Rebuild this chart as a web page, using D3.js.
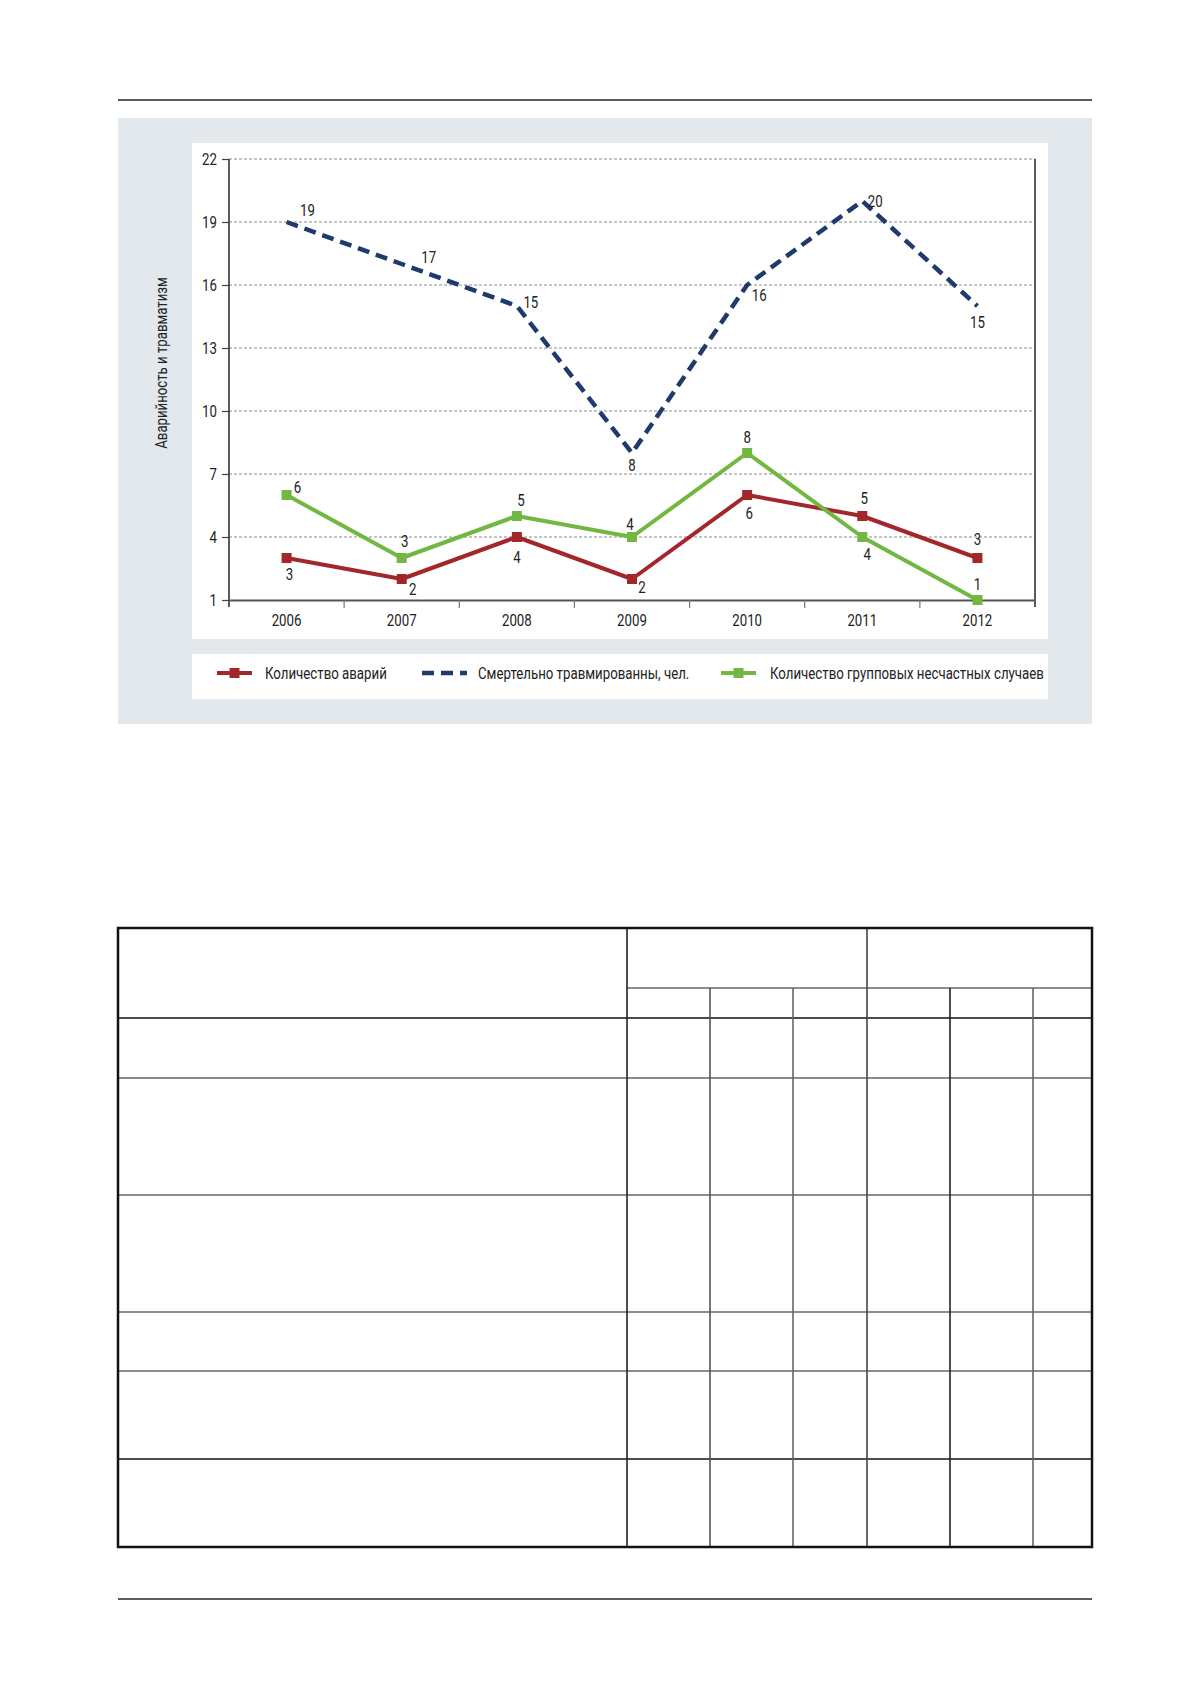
<!DOCTYPE html>
<html>
<head>
<meta charset="utf-8">
<script src="https://cdn.jsdelivr.net/npm/d3@7"></script>
<style>
  html, body { margin: 0; padding: 0; background: #fff; }
  svg { display: block; }
  text { font-family: "Liberation Sans Narrow", "Arial Narrow", Roboto, "Liberation Sans", sans-serif; fill: #222; }
</style>
</head>
<body>
<svg id="page" width="1179" height="1681"></svg>
<script>
// ---------- data ----------
const years = ["2006", "2007", "2008", "2009", "2010", "2011", "2012"];
const accidents = [3, 2, 4, 2, 6, 5, 3];            // Количество аварий
const fatalities = [19, 17, 15, 8, 16, 20, 15];     // Смертельно травмированны, чел.
const groupCases = [6, 3, 5, 4, 8, 4, 1];           // Количество групповых несчастных случаев
const yTicks = [1, 4, 7, 10, 13, 16, 19, 22];
const seriesNames = ["Количество аварий", "Смертельно травмированны, чел.", "Количество групповых несчастных случаев"];
const yTitle = "Аварийность и травматизм";

// label offsets (style only) [dx, dy] relative to each point
const accLabelOff = [[3,16],[11,10],[0,20],[10,8],[2,18],[2,-18],[0,-19]];
const fatLabelOff = [[21,-12],[27,-7],[14,-4],[0,12],[12,10],[13,0],[0,16]];
const grpLabelOff = [[11,-8],[3,-17],[4,-16],[-2,-13],[0,-16],[5,17],[0,-16]];

// ---------- helpers ----------
const SX = 0.78;   // horizontal squeeze to imitate a narrow typeface
const FS = 17;
function narrow(sel) {
  sel.each(function () {
    const t = d3.select(this);
    const xv = +t.attr("x") || 0;
    t.attr("x", xv / SX).attr("transform", `scale(${SX},1)`);
  });
}

// ---------- layout ----------
const svg = d3.select("#page");

// top rule
svg.append("line").attr("x1",118).attr("x2",1092).attr("y1",100).attr("y2",100)
  .attr("stroke","#5a5a5a").attr("stroke-width",2);

// gray panel
svg.append("rect").attr("x",118).attr("y",118).attr("width",1092-118).attr("height",724-118).attr("fill","#e3e8ec");
// white chart box
svg.append("rect").attr("x",192).attr("y",143).attr("width",1048-192).attr("height",639-143).attr("fill","#fff");
// white legend box
svg.append("rect").attr("x",192).attr("y",654).attr("width",1048-192).attr("height",699-654).attr("fill","#fff");

const x0 = 229, x1 = 1035, yTop = 159, yBot = 600;
const x = d3.scaleBand().domain(years).range([x0, x1]).padding(0);
const y = d3.scaleLinear().domain([1, 22]).range([yBot, yTop]);
const cx = d => x(d) + x.bandwidth() / 2;

const g = svg.append("g");

// gridlines (dashed)
g.selectAll("line.grid").data(yTicks.filter(v => v > 1)).join("line")
  .attr("class","grid")
  .attr("x1", x0).attr("x2", x1)
  .attr("y1", d => y(d)).attr("y2", d => y(d))
  .attr("stroke","#8a8a8a").attr("stroke-width",1).attr("stroke-dasharray","3,2");

// y axis
const yAxis = d3.axisLeft(y).tickValues(yTicks).tickSize(7).tickPadding(5).tickFormat(d3.format("d"));
const yg = g.append("g").attr("transform", `translate(${x0},0)`).call(yAxis);
yg.select(".domain").remove();
yg.selectAll(".tick line").attr("stroke","#444").attr("stroke-width",1.2);
yg.selectAll(".tick text").attr("font-size",FS).attr("fill","#222")
  .style("font-family",'"Liberation Sans Narrow", "Arial Narrow", Roboto, sans-serif');
narrow(yg.selectAll(".tick text"));

// left and right vertical axis lines
g.append("line").attr("x1",x0).attr("x2",x0).attr("y1",yTop).attr("y2",yBot+7).attr("stroke","#333").attr("stroke-width",1.6);
g.append("line").attr("x1",x1).attr("x2",x1).attr("y1",yTop).attr("y2",yBot+7).attr("stroke","#333").attr("stroke-width",1.6);

// x axis
const xAxis = d3.axisBottom(x).tickSize(0).tickPadding(14);
const xg = g.append("g").attr("transform", `translate(0,${yBot})`).call(xAxis);
xg.select(".domain").attr("stroke","#555").attr("stroke-width",2);
xg.selectAll(".tick text").attr("font-size",FS).attr("fill","#222")
  .style("font-family",'"Liberation Sans Narrow", "Arial Narrow", Roboto, sans-serif');
narrow(xg.selectAll(".tick text"));
// category separator ticks
g.selectAll("line.xsep").data(years.slice(1)).join("line").attr("class","xsep")
  .attr("x1", d => x(d)).attr("x2", d => x(d))
  .attr("y1", yBot).attr("y2", yBot + 8)
  .attr("stroke","#777").attr("stroke-width",1.2);

// y title
svg.append("text").attr("transform",`translate(167,363) rotate(-90) scale(0.8,1)`)
  .attr("text-anchor","middle").attr("font-size",16.5).attr("fill","#333").text(yTitle);

// ---------- series ----------
const colAcc = "#a3272a", colFat = "#1f3a6b", colGrp = "#72b742";
const line = d3.line().x((d,i) => cx(years[i])).y(d => y(d));

function drawLabels(vals, offs, cls) {
  const s = g.selectAll("text."+cls).data(vals).join("text").attr("class",cls)
    .attr("x", (d,i) => cx(years[i]) + offs[i][0])
    .attr("y", (d,i) => y(d) + offs[i][1])
    .attr("dy","0.36em").attr("text-anchor","middle").attr("font-size",FS).attr("fill","#222")
    .text(d => d);
  narrow(s);
}

// fatalities dashed
g.append("path").datum(fatalities).attr("d", line).attr("fill","none")
  .attr("stroke", colFat).attr("stroke-width",4.5).attr("stroke-dasharray","12,7");

// accidents
g.append("path").datum(accidents).attr("d", line).attr("fill","none")
  .attr("stroke", colAcc).attr("stroke-width",4).attr("stroke-linejoin","round");
g.selectAll("rect.acc").data(accidents).join("rect").attr("class","acc")
  .attr("x",(d,i)=>cx(years[i])-5).attr("y",d=>y(d)-5).attr("width",10).attr("height",10).attr("fill",colAcc);

// group cases
g.append("path").datum(groupCases).attr("d", line).attr("fill","none")
  .attr("stroke", colGrp).attr("stroke-width",4).attr("stroke-linejoin","round");
g.selectAll("rect.grp").data(groupCases).join("rect").attr("class","grp")
  .attr("x",(d,i)=>cx(years[i])-5).attr("y",d=>y(d)-5).attr("width",10).attr("height",10).attr("fill",colGrp);

drawLabels(fatalities, fatLabelOff, "lf");
drawLabels(accidents, accLabelOff, "la");
drawLabels(groupCases, grpLabelOff, "lg");

// ---------- legend ----------
const legY = 673;
const legItems = [
  {name: seriesNames[0], color: colAcc, dash: null, marker: true, x: 217, w: 35, tx: 265},
  {name: seriesNames[1], color: colFat, dash: "12,7", marker: false, x: 422, w: 45, tx: 478},
  {name: seriesNames[2], color: colGrp, dash: null, marker: true, x: 721, w: 35, tx: 770}
];
const lg = svg.append("g");
legItems.forEach(it => {
  lg.append("line").attr("x1", it.x).attr("x2", it.x + it.w).attr("y1", legY).attr("y2", legY)
    .attr("stroke", it.color).attr("stroke-width", it.dash ? 4.5 : 4).attr("stroke-dasharray", it.dash);
  if (it.marker) lg.append("rect").attr("x", it.x + it.w/2 - 5).attr("y", legY - 5).attr("width",10).attr("height",10).attr("fill", it.color);
  const t = lg.append("text").attr("x", it.tx).attr("y", legY).attr("dy","0.36em").attr("font-size",FS).attr("fill","#222").text(it.name);
  narrow(t);
});

// ---------- empty table below ----------
const tblX0 = 118, tblX1 = 1092;
const tblRows = [928, 1018, 1078, 1195, 1312, 1371, 1459, 1547];
const tblCols = [627, 710, 793, 867, 950, 1033];
const tg = svg.append("g");
const hColors = ["#111", "#666", "#666", "#666", "#666", "#111"];
tblRows.slice(1, -1).forEach((r, i) => {
  tg.append("line").attr("x1", tblX0).attr("x2", tblX1).attr("y1", r).attr("y2", r)
    .attr("stroke", hColors[i]).attr("stroke-width", 1.6);
});
tg.append("line").attr("x1", tblCols[0]).attr("x2", tblX1).attr("y1", 988).attr("y2", 988).attr("stroke","#666").attr("stroke-width",1.6);
const vColors = ["#222", "#555", "#666", "#444", "#222", "#666"];
tblCols.forEach((c, i) => {
  const top = (i === 0 || i === 3) ? tblRows[0] : 988;
  tg.append("line").attr("x1", c).attr("x2", c).attr("y1", top).attr("y2", tblRows[tblRows.length-1])
    .attr("stroke", vColors[i]).attr("stroke-width", 1.6);
});
tg.append("rect").attr("x", tblX0).attr("y", tblRows[0]).attr("width", tblX1 - tblX0).attr("height", tblRows[tblRows.length-1] - tblRows[0])
  .attr("fill","none").attr("stroke","#111").attr("stroke-width",2.5);

// bottom rule
svg.append("line").attr("x1",118).attr("x2",1092).attr("y1",1599).attr("y2",1599)
  .attr("stroke","#5a5a5a").attr("stroke-width",2);
</script>
</body>
</html>
